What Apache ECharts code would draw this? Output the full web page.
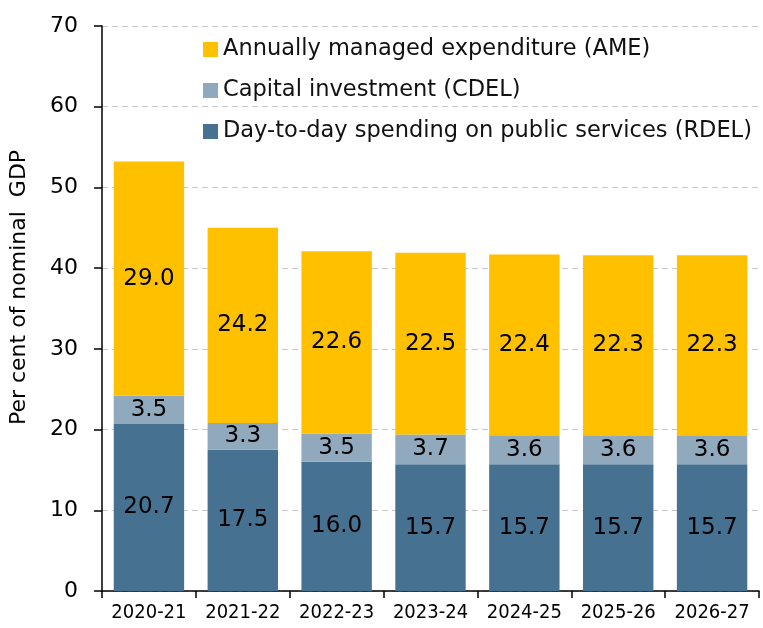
<!DOCTYPE html>
<html>
<head>
<meta charset="utf-8">
<script src="https://cdn.jsdelivr.net/npm/echarts@6/dist/echarts.min.js"></script>
<style>
  html, body { margin: 0; padding: 0; background: #fff; }
  #chart { width: 763px; height: 628px; }
</style>
</head>
<body>
<div id="chart"></div>
<script>
const years = ['2020-21', '2021-22', '2022-23', '2023-24', '2024-25', '2025-26', '2026-27'];
const rdel = [20.7, 17.5, 16.0, 15.7, 15.7, 15.7, 15.7];
const cdel = [3.5, 3.3, 3.5, 3.7, 3.6, 3.6, 3.6];
const ame = [29.0, 24.2, 22.6, 22.5, 22.4, 22.3, 22.3];

const font = '"DejaVu Sans"';
const chart = echarts.init(document.getElementById('chart'));

// shared look for the stacked bars
function barSeries(name, data, color) {
  return {
    name: name,
    type: 'bar',
    stack: 'total',
    data: data,
    barCategoryGap: '25%',
    itemStyle: { color: color },
    label: {
      show: true,
      position: 'inside',
      color: '#000',
      fontFamily: font,
      fontSize: 23,
      formatter: p => p.value.toFixed(1)
    }
  };
}

const option = {
  animation: false,
  grid: { left: 101, top: 26, right: 4, bottom: 37 },
  legend: {
    orient: 'vertical',
    left: 198,
    top: 33,
    itemWidth: 15,
    itemHeight: 15,
    itemGap: 18,
    icon: 'rect',
    textStyle: { fontFamily: font, fontSize: 22.5, lineHeight: 22, color: '#111' },
    data: ['Annually managed expenditure (AME)', 'Capital investment (CDEL)', 'Day-to-day spending on public services (RDEL)']
  },
  xAxis: {
    type: 'category',
    data: years,
    axisLine: { lineStyle: { color: '#000', width: 1.5 } },
    axisTick: { show: true, alignWithLabel: false, length: 7, lineStyle: { color: '#000', width: 1.5 } },
    axisLabel: { interval: 0, color: '#000', fontFamily: '"DejaVu Sans Condensed", "DejaVu Sans"', fontSize: 20, margin: 12 }
  },
  yAxis: {
    type: 'value',
    min: 0,
    max: 70,
    interval: 10,
    name: 'Per cent of nominal  GDP',
    nameLocation: 'middle',
    nameGap: 72,
    nameTextStyle: { color: '#000', fontFamily: font, fontSize: 22, padding: [0, 0, 0, 42] },
    axisLine: { show: true, lineStyle: { color: '#000', width: 1.5 } },
    axisTick: { show: true, length: 8, lineStyle: { color: '#000', width: 1.5 } },
    axisLabel: { color: '#000', fontFamily: font, fontSize: 22, margin: 24 },
    splitLine: { show: true, lineStyle: { color: '#c8c8c8', type: [6, 4], width: 1 } }
  },
  series: [
    barSeries('Day-to-day spending on public services (RDEL)', rdel, '#467190'),
    barSeries('Capital investment (CDEL)', cdel, '#90a9bd'),
    barSeries('Annually managed expenditure (AME)', ame, '#ffc000')
  ]
};
chart.setOption(option);
</script>
</body>
</html>
